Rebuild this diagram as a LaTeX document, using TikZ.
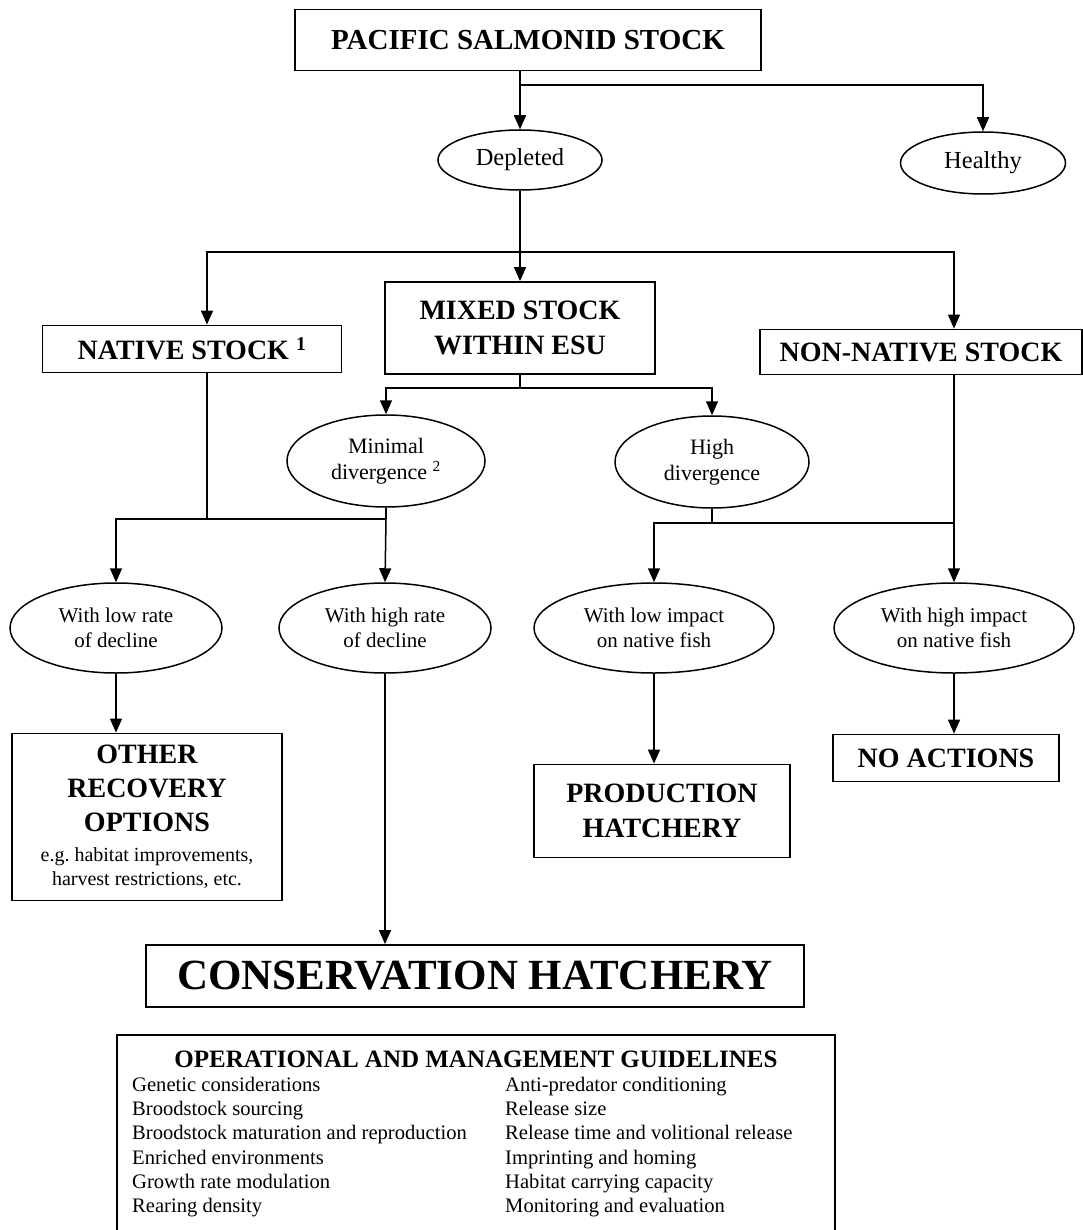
\documentclass[tikz,border=0pt]{standalone}
\usepackage{fontspec}
\setmainfont{Liberation Serif}
\usetikzlibrary{arrows.meta,shapes.geometric}

\begin{document}
\begin{tikzpicture}[
    x=1pt, y=-1pt,
    box/.style={draw, line width=1.8pt, inner sep=0pt, align=center,
      font=\bfseries\fontsize{28}{35}\selectfont},
    oval/.style={draw, ellipse, line width=1.5pt, inner sep=0pt, align=center,
      font=\fontsize{21}{25}\selectfont, minimum height=90},
    arrow/.style={-{Triangle[length=14pt, width=12pt]}, line width=1.5pt},
    link/.style={line width=1.5pt},
    guide/.style={align=left, font=\fontsize{20.6}{24.2}\selectfont, inner sep=0pt},
    note/.style={font=\mdseries\fontsize{20}{24}\selectfont}
  ]
    \useasboundingbox (0,0) rectangle (1082,1230);

    % top level
    \node[box, font=\bfseries\fontsize{29}{35}\selectfont, minimum width=466,
      minimum height=61] (salmon) at (528,40) {PACIFIC SALMONID STOCK};
    \node[oval, font=\fontsize{24.5}{28}\selectfont, minimum width=164,
      minimum height=60] (depleted) at (520,160) {Depleted};
    \node[oval, font=\fontsize{24.5}{28}\selectfont, minimum width=165,
      minimum height=62] (healthy) at (983,163) {Healthy};

    % stock types
    \node[box, minimum width=270, minimum height=92] (mixed) at (520,328)
      {MIXED STOCK\\WITHIN ESU};
    \node[box, minimum width=299, minimum height=47] (native) at (192,349)
      {NATIVE STOCK \textsuperscript{1}};
    \node[box, minimum width=322, minimum height=45] (nonnative) at (921,352)
      {NON-NATIVE STOCK};

    % divergence
    \node[oval, font=\fontsize{22}{26}\selectfont, minimum width=198,
      minimum height=92] (minimal) at (386,461)
      {Minimal\\divergence \textsuperscript{2}};
    \node[oval, font=\fontsize{22}{26}\selectfont, minimum width=194,
      minimum height=92] (highdiv) at (712,462) {High\\divergence};

    % rate and impact
    \node[oval, minimum width=212] (lowrate) at (116,628)
      {With low rate\\of decline};
    \node[oval, minimum width=212] (highrate) at (385,628)
      {With high rate\\of decline};
    \node[oval, minimum width=240] (lowimp) at (654,628)
      {With low impact\\on native fish};
    \node[oval, minimum width=240] (highimp) at (954,628)
      {With high impact\\on native fish};

    % outcomes
    \node[box, font=\bfseries\fontsize{28}{34}\selectfont, minimum width=270,
      minimum height=167] (other) at (147,817)
      {OTHER\\RECOVERY\\OPTIONS\\[-4pt]
       \mdseries\fontsize{20}{24}\selectfont e.g.\ habitat improvements,\\[-10pt]
       \mdseries\fontsize{20}{24}\selectfont harvest restrictions, etc.};
    \node[box, minimum width=256, minimum height=93] (prod) at (662,811)
      {PRODUCTION\\HATCHERY};
    \node[box, minimum width=226, minimum height=47] (noact) at (946,758)
      {NO ACTIONS};
    \node[box, font=\bfseries\fontsize{43}{50}\selectfont, minimum width=658,
      minimum height=62] (cons) at (475,976) {CONSERVATION HATCHERY};

    % guidelines
    \node[draw, line width=1.8pt, minimum width=718, minimum height=196,
      inner sep=0pt] (guides) at (476,1133) {};
    \node[font=\bfseries\fontsize{25}{30}\selectfont, inner sep=0pt]
      (guidehead) at (476,1059) {OPERATIONAL AND MANAGEMENT GUIDELINES};
    \node[guide, anchor=north west] (guideleft) at (132,1077)
      {Genetic considerations\\
       Broodstock sourcing\\
       Broodstock maturation and reproduction\\
       Enriched environments\\
       Growth rate modulation\\
       Rearing density};
    \node[guide, anchor=north west] (guideright) at (505,1077)
      {Anti-predator conditioning\\
       Release size\\
       Release time and volitional release\\
       Imprinting and homing\\
       Habitat carrying capacity\\
       Monitoring and evaluation};

    % connectors
    \coordinate (bustop) at (520,85);
    \draw[link] (salmon.south -| depleted.north) -- (bustop);
    \draw[arrow] (bustop) -- (depleted.north);
    \draw[arrow] (bustop) -| (healthy.north);

    \coordinate (busmid) at (520,252);
    \draw[arrow] (depleted.south) -- (mixed.north);
    \draw[arrow] (busmid) -| ([xshift=15]native.north);
    \draw[arrow] (busmid) -| ([xshift=33]nonnative.north);

    \coordinate (busdiv) at (520,388);
    \draw[link] (mixed.south) -- (busdiv);
    \draw[arrow] (busdiv) -| (minimal.north);
    \draw[arrow] (busdiv) -| (highdiv.north);

    \coordinate (busleft) at (207,519);
    \draw[link] ([xshift=15]native.south) -- (busleft);
    \draw[link] (minimal.south) -- (minimal.south |- busleft);
    \draw[arrow] (minimal.south |- busleft) -| (lowrate.north);
    \draw[arrow] (minimal.south |- busleft) -- (highrate.north);

    \coordinate (busright) at (954,523);
    \draw[link] (highdiv.south) -- (highdiv.south |- busright);
    \draw[arrow] ([xshift=33]nonnative.south) -- (highimp.north);
    \draw[arrow] (busright) -| (lowimp.north);

    \draw[arrow] (lowrate.south) -- (lowrate.south |- other.north);
    \draw[arrow] (highrate.south) -- (highrate.south |- cons.north);
    \draw[arrow] (lowimp.south) -- (lowimp.south |- prod.north);
    \draw[arrow] (highimp.south) -- (highimp.south |- noact.north);
\end{tikzpicture}
\end{document}
